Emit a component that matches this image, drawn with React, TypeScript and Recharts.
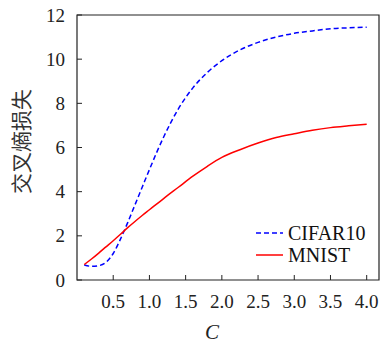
import React from 'react';
import { LineChart, Line, XAxis, YAxis, ReferenceArea } from 'recharts';

const cValues = [0.1, 0.2, 0.3, 0.4, 0.5, 0.6, 0.7, 0.8, 0.9, 1.0, 1.2, 1.4, 1.6, 1.8, 2.0, 2.25, 2.5, 2.75, 3.0, 3.25, 3.5, 3.75, 4.0];
const cifar10 = [0.68, 0.62, 0.65, 0.8, 1.2, 1.85, 2.6, 3.4, 4.2, 5.0, 6.5, 7.75, 8.7, 9.4, 9.93, 10.42, 10.76, 11.0, 11.17, 11.28, 11.38, 11.42, 11.45];
const mnist = [0.7, 0.95, 1.22, 1.5, 1.78, 2.07, 2.37, 2.65, 2.92, 3.18, 3.7, 4.2, 4.7, 5.15, 5.55, 5.9, 6.2, 6.45, 6.62, 6.78, 6.9, 6.98, 7.05];
const xTicks = [0.5, 1.0, 1.5, 2.0, 2.5, 3.0, 3.5, 4.0];
const yTicks = [0, 2, 4, 6, 8, 10, 12];
const seriesNames = ['CIFAR10', 'MNIST'];
const seriesColors = ['#0000ff', '#ff0000'];
const yLabel = '交叉熵损失';
const xLabel = 'C';

const data = cValues.map((c, i) => ({ c, cifar10: cifar10[i], mnist: mnist[i] }));

const SERIF = 'Liberation Serif, Times New Roman, DejaVu Serif, serif';

const XTick = (props: any) => {
  const { x, y, payload } = props;
  return (
    <g>
      <line x1={x} y1={y} x2={x} y2={y - 5} stroke="#222" strokeWidth={1} />
      <text x={x} y={y + 28} textAnchor="middle" style={{ fontFamily: SERIF, fontSize: 19 }} fill="#222">
        {Number(payload.value).toFixed(1)}
      </text>
    </g>
  );
};

const YTick = (props: any) => {
  const { x, y, payload } = props;
  return (
    <g>
      <line x1={x} y1={y} x2={x + 5} y2={y} stroke="#222" strokeWidth={1} />
      <text x={x - 12} y={y} textAnchor="end" dominantBaseline="central" style={{ fontFamily: SERIF, fontSize: 19 }} fill="#222">
        {payload.value}
      </text>
    </g>
  );
};

const LegendBox = () => (
  <div style={{ position: 'absolute', left: 256, top: 222, fontFamily: SERIF, fontSize: 20, color: '#111', lineHeight: '22px' }}>
    {seriesNames.map((n, i) => (
      <div key={n} style={{ display: 'flex', alignItems: 'center', height: 22 }}>
        <svg width={32} height={10} style={{ display: 'block' }}>
          <line x1={0} y1={5} x2={27} y2={5} stroke={seriesColors[i]} strokeWidth={1.5} strokeDasharray={i === 0 ? '5 3' : undefined} />
        </svg>
        <span>{n}</span>
      </div>
    ))}
  </div>
);

export default function App() {
  return (
    <div style={{ position: 'absolute', left: 0, top: 0, width: 382, height: 345, background: '#fff' }}>
      <LineChart width={382} height={345} data={data} margin={{ top: 15, right: 3, bottom: 0, left: 0 }}>
        <XAxis
          dataKey="c"
          type="number"
          domain={[0, 4.17]}
          ticks={xTicks}
          tick={<XTick />}
          tickLine={false}
          tickSize={0}
          tickMargin={0}
          axisLine={false}
          height={65}
          interval={0}
          allowDataOverflow
          label={{
            content: (p: any) => {
              const vb = p.viewBox || {};
              return (
                <text x={212} y={vb.y + 52} textAnchor="middle" dominantBaseline="central" style={{ fontFamily: SERIF, fontStyle: 'italic', fontSize: 21 }} fill="#222">
                  {xLabel}
                </text>
              );
            },
          }}
        />
        <YAxis
          type="number"
          domain={[0, 12]}
          ticks={yTicks}
          tick={<YTick />}
          tickLine={false}
          tickSize={0}
          tickMargin={0}
          axisLine={false}
          width={77}
          interval={0}
          label={{
            content: (p: any) => {
              const vb = p.viewBox || {};
              const cx = 20;
              const cy = vb.y + vb.height / 2 - 6;
              return (
                <text x={cx} y={cy} transform={`rotate(-90, ${cx}, ${cy})`} textAnchor="middle" dominantBaseline="central" style={{ fontFamily: '"Noto Sans CJK SC", sans-serif', fontSize: 21 }} fill="#333">
                  {yLabel}
                </text>
              );
            },
          }}
        />
        <ReferenceArea x1={0} x2={4.17} y1={0} y2={12} fill="none" stroke="#222" strokeWidth={1.2} strokeOpacity={1} ifOverflow="extendDomain" />
        <Line dataKey="cifar10" name={seriesNames[0]} type="monotone" stroke={seriesColors[0]} strokeWidth={1.5} strokeDasharray="5 3" dot={false} isAnimationActive={false} />
        <Line dataKey="mnist" name={seriesNames[1]} type="monotone" stroke={seriesColors[1]} strokeWidth={1.5} dot={false} isAnimationActive={false} />
      </LineChart>
      <LegendBox />
    </div>
  );
}
